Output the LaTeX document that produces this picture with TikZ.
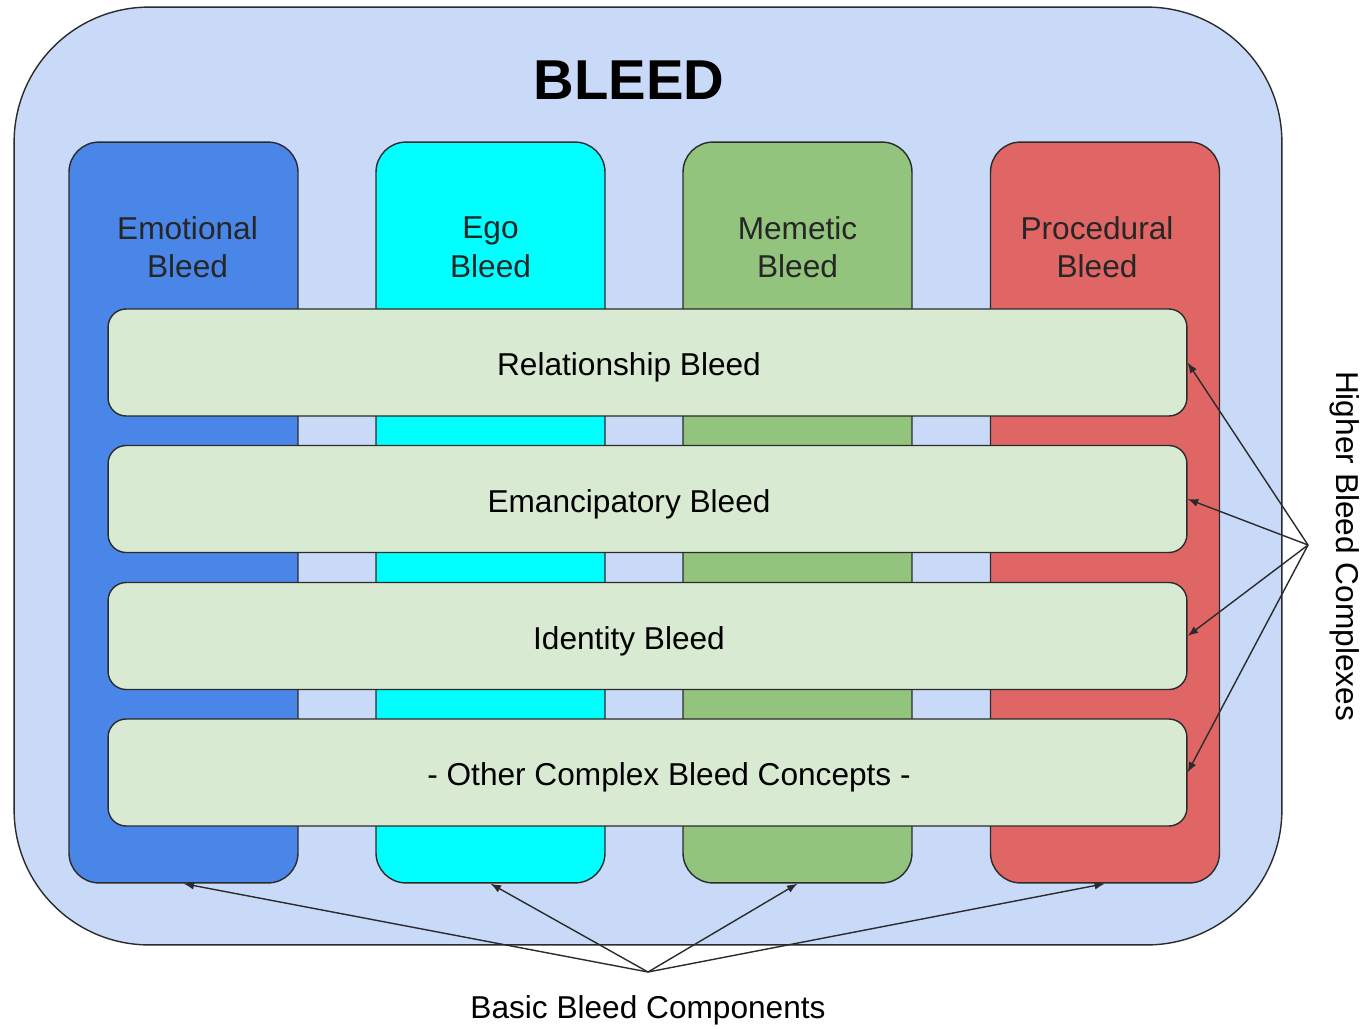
\documentclass[tikz,border=0pt]{standalone}
\usepackage{fontspec}
\setmainfont{Liberation Sans}
\usetikzlibrary{arrows.meta}

\definecolor{outerblue}{HTML}{C9DAF8}
\definecolor{emoblue}{HTML}{4A86E8}
\definecolor{egocyan}{HTML}{00FFFF}
\definecolor{memgreen}{HTML}{93C47D}
\definecolor{procred}{HTML}{E06666}
\definecolor{barbg}{HTML}{D9EAD3}
\definecolor{edge}{HTML}{2B2B2B}

\tikzset{
  column/.style={draw=edge, line width=0.8pt, rounded corners=0.6cm,
    minimum width=4.58cm, minimum height=14.82cm, inner sep=0pt},
  coltext/.style={align=center, font=\fontsize{18}{22}\selectfont, text=black!85,
    anchor=center, yshift=-2.12cm},
  bar/.style={draw=edge, line width=0.8pt, fill=barbg, rounded corners=0.36cm,
    minimum width=21.58cm, minimum height=2.14cm},
  bartext/.style={font=\fontsize{18}{22}\selectfont, anchor=center, yshift=-0.1cm},
  pointer/.style={draw=edge, line width=0.8pt, -{Latex[length=2.1mm,width=1.6mm]}}
}

\begin{document}
\begin{tikzpicture}[x=0.02cm, y=-0.02cm]

  \useasboundingbox (0,0) rectangle (1365,1028);

  % --- outer box ---
  \node[draw=edge, line width=0.8pt, fill=outerblue, rounded corners=2.7cm,
        minimum width=25.36cm, minimum height=18.76cm] (outer) at (648,476) {};
  \node[font=\fontsize{32}{38}\selectfont\bfseries] (title) at (629,80) {BLEED};

  % --- basic components (columns) ---
  \node[column, fill=emoblue,
        label={[coltext, xshift=0.08cm]north:Emotional\\Bleed}]
        (emo) at (183.5,512.5) {};
  \node[column, fill=egocyan,
        label={[coltext]north:Ego\\Bleed}]
        (ego) at (490.5,512.5) {};
  \node[column, fill=memgreen,
        label={[coltext]north:Memetic\\Bleed}]
        (mem) at (797.5,512.5) {};
  \node[column, fill=procred,
        label={[coltext, xshift=-0.16cm]north:Procedural\\Bleed}]
        (proc) at (1105,512.5) {};

  % --- higher complexes (bars) ---
  \node[bar, label={[bartext, xshift=-0.37cm]center:Relationship Bleed}]
        (rel) at (647.5,362.5) {};
  \node[bar, label={[bartext, xshift=-0.37cm]center:Emancipatory Bleed}]
        (eman) at (647.5,499) {};
  \node[bar, label={[bartext, xshift=-0.37cm]center:Identity Bleed}]
        (iden) at (647.5,636) {};
  \node[bar, label={[bartext, xshift=0.43cm]center:- Other Complex Bleed Concepts -}]
        (other) at (647.5,772.5) {};

  % --- side label with its pointers ---
  \coordinate (hbc) at (1308,545);
  \node[rotate=-90, font=\fontsize{18}{22}\selectfont] (hbclabel) at (1345,546)
    {Higher Bleed Complexes};
  \foreach \b in {rel,eman,iden,other}
    \draw[pointer] (hbc) -- (\b.east);

  % --- bottom label with its pointers ---
  \coordinate (bbc) at (648,972);
  \node[font=\fontsize{18}{22}\selectfont] (bbclabel) at (648,1010)
    {Basic Bleed Components};
  \foreach \c in {emo,ego,mem,proc}
    \draw[pointer] (bbc) -- (\c.south);

\end{tikzpicture}
\end{document}
